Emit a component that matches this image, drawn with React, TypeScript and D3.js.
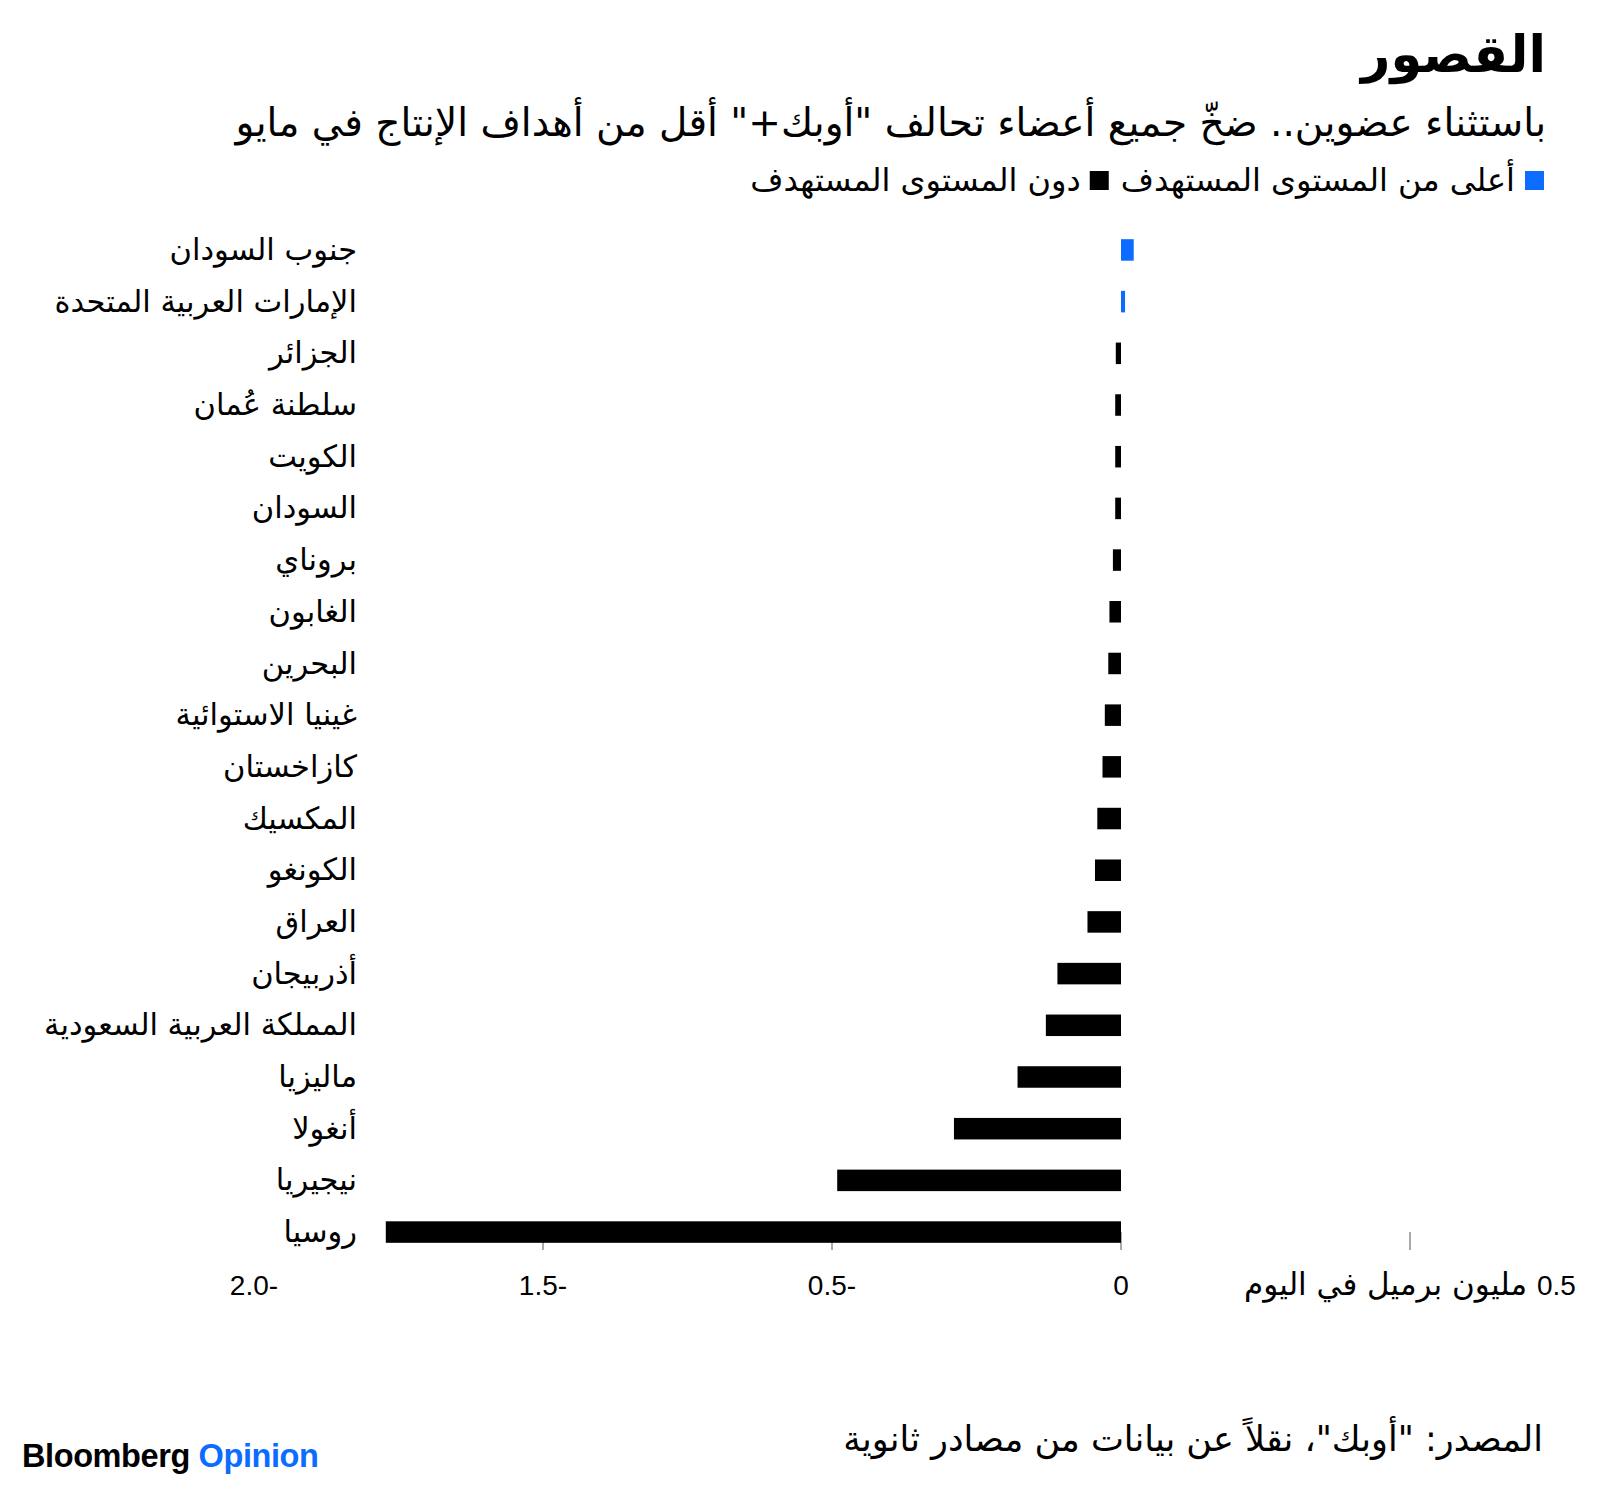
import React, { useEffect, useRef } from "react";
import * as d3 from "d3";

const countries = [
  "جنوب السودان",
  "الإمارات العربية المتحدة",
  "الجزائر",
  "سلطنة عُمان",
  "الكويت",
  "السودان",
  "بروناي",
  "الغابون",
  "البحرين",
  "غينيا الاستوائية",
  "كازاخستان",
  "المكسيك",
  "الكونغو",
  "العراق",
  "أذربيجان",
  "المملكة العربية السعودية",
  "ماليزيا",
  "أنغولا",
  "نيجيريا",
  "روسيا",
];
const values = [
  0.022, 0.007, -0.009, -0.01, -0.01, -0.01, -0.014, -0.02, -0.022, -0.028,
  -0.032, -0.041, -0.045, -0.058, -0.11, -0.13, -0.179, -0.289, -0.491, -1.272,
];
const tickValues = [-1.5, -1.0, -0.5, 0, 0.5];
const tickLabels = ["-2.0", "-1.5", "-0.5", "0", "0.5"];
const unitLabel = "مليون برميل في اليوم";
const tickMarks = [-1.0, -0.5, 0, 0.5];
const legendLabels = ["أعلى من المستوى المستهدف", "دون المستوى المستهدف"];
const title = "القصور";
const subtitle =
  'باستثناء عضوين.. ضخّ جميع أعضاء تحالف "أوبك+" أقل من أهداف الإنتاج في مايو';
const source = 'المصدر: "أوبك"، نقلاً عن بيانات من مصادر ثانوية';

const W = 1600;
const H = 1488;
const BLUE = "#0b6cff";
const AR = "'DejaVu Sans', sans-serif";
const LAT = "'Liberation Sans', 'DejaVu Sans', sans-serif";

function alignRight(t: any, xr: number) {
  const b = (t.node() as SVGTextElement).getBBox();
  const x0 = +t.attr("x");
  t.attr("x", x0 + (xr - (b.x + b.width)));
}
function alignCenter(t: any, xc: number) {
  const b = (t.node() as SVGTextElement).getBBox();
  const x0 = +t.attr("x");
  t.attr("x", x0 + (xc - (b.x + b.width / 2)));
}

export default function App() {
  const ref = useRef<SVGSVGElement>(null);
  useEffect(() => {
    document.body.style.margin = "0";
    const svg = d3.select(ref.current);
    svg.selectAll("*").remove();
    svg.append("rect").attr("width", W).attr("height", H).attr("fill", "#fff");

    const x = d3.scaleLinear().domain([-1.5, 0.5]).range([254, 1410]);
    const y = d3
      .scaleBand<string>()
      .domain(countries)
      .range([209, 1273])
      .paddingInner(0.584)
      .paddingOuter(0.584);

    // title
    const tt = svg
      .append("text")
      .attr("x", 1546)
      .attr("y", 72)
      .attr("font-family", AR)
      .attr("font-weight", 700)
      .attr("font-size", 51)
      .attr("fill", "#000")
      .attr("direction", "rtl")
      .text(title);
    alignRight(tt, 1546);

    const st = svg
      .append("text")
      .attr("x", 1546)
      .attr("y", 136)
      .attr("font-family", AR)
      .attr("font-size", 39)
      .attr("fill", "#000")
      .attr("direction", "rtl")
      .text(subtitle);
    alignRight(st, 1546);

    // legend
    const sq = 19;
    svg.append("rect").attr("x", 1525).attr("y", 171).attr("width", sq).attr("height", sq).attr("fill", BLUE);
    const l1 = svg
      .append("text")
      .attr("x", 1515)
      .attr("y", 191)
      .attr("font-family", AR)
      .attr("font-size", 32)
      .attr("fill", "#000")
      .attr("direction", "rtl")
      .text(legendLabels[0]);
    alignRight(l1, 1515);
    const b1 = (l1.node() as SVGTextElement).getBBox();
    const sq2x = b1.x - 12 - sq;
    svg.append("rect").attr("x", sq2x).attr("y", 171).attr("width", sq).attr("height", sq).attr("fill", "#000");
    const l2 = svg
      .append("text")
      .attr("x", sq2x - 9)
      .attr("y", 191)
      .attr("font-family", AR)
      .attr("font-size", 32)
      .attr("fill", "#000")
      .attr("direction", "rtl")
      .text(legendLabels[1]);
    alignRight(l2, sq2x - 9);

    // ticks
    svg
      .append("g")
      .selectAll("line")
      .data(tickMarks)
      .join("line")
      .attr("x1", (d) => x(d))
      .attr("x2", (d) => x(d))
      .attr("y1", 1232)
      .attr("y2", 1250)
      .attr("stroke", "#555")
      .attr("stroke-width", 1);

    // bars
    svg
      .append("g")
      .selectAll("rect")
      .data(countries)
      .join("rect")
      .attr("x", (d, i) => x(Math.min(0, values[i])))
      .attr("width", (d, i) => Math.abs(x(values[i]) - x(0)))
      .attr("y", (d) => y(d)!)
      .attr("height", y.bandwidth())
      .attr("fill", (d, i) => (values[i] >= 0 ? BLUE : "#000"));

    // category labels
    svg
      .append("g")
      .selectAll("text")
      .data(countries)
      .join("text")
      .attr("x", 357)
      .attr("y", (d) => y(d)! + y.bandwidth() / 2)
      .attr("dy", "0.33em")
      .attr("text-anchor", "end")
      .attr("font-family", AR)
      .attr("font-size", 30.5)
      .attr("fill", "#000")
      .text((d) => d);

    // tick labels
    tickValues.forEach((v, i) => {
      const t = svg
        .append("text")
        .attr("x", x(v))
        .attr("y", 1295)
        .attr("font-family", LAT)
        .attr("font-size", 28)
        .attr("fill", "#000")
        .attr("direction", "rtl");
      t.append("tspan").text(tickLabels[i]);
      if (i === tickValues.length - 1) {
        t.append("tspan").attr("font-family", AR).attr("font-size", 31).text(" " + unitLabel);
      }
      alignCenter(t, x(v));
    });

    // source
    const so = svg
      .append("text")
      .attr("x", 1543)
      .attr("y", 1451)
      .attr("font-family", AR)
      .attr("font-size", 35)
      .attr("fill", "#000")
      .attr("direction", "rtl")
      .text(source);
    alignRight(so, 1543);

    // logo
    const logo = svg
      .append("text")
      .attr("x", 22)
      .attr("y", 1467)
      .attr("font-family", LAT)
      .attr("font-weight", 700)
      .attr("font-size", 32.5)
      .attr("letter-spacing", -0.4);
    logo.append("tspan").attr("fill", "#000").text("Bloomberg ");
    logo.append("tspan").attr("fill", BLUE).text("Opinion");
  }, []);
  return <svg ref={ref} width={W} height={H} style={{ display: "block" }} />;
}
